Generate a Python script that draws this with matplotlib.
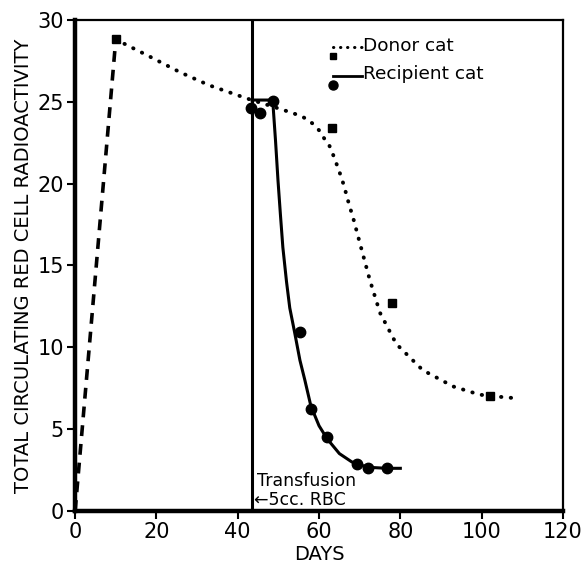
import numpy as np
import matplotlib.pyplot as plt

# injection phase (dashed)
dias_inyeccion = [0, 10]
act_inyeccion = [0, 28.8]

# donor cat curve (dotted)
dias_donante = [10, 18, 25.8, 33, 42.2, 48, 53.6, 55.7, 57.3, 58.7, 60.2, 61.4, 62.4, 63.4, 64.9, 66.1,
                67.3, 68.5, 70, 72.5, 75, 79, 85.5, 93, 99.5, 103, 107.6]
act_donante = [28.8, 27.8, 26.8, 26.0, 25.2, 24.75, 24.3, 24.1, 23.9, 23.6, 23.2, 22.7, 22.4, 21.8, 20.8, 19.9,
               18.8, 17.8, 16.4, 14.1, 12.1, 10.2, 8.6, 7.6, 7.1, 7.0, 6.9]
dias_donante_pts = [10, 63.2, 77.9, 102]
act_donante_pts = [28.8, 23.4, 12.7, 7.0]

# recipient cat curve (solid)
dias_receptor = [43.5, 48.6, 49.3, 49.9, 50.5, 51.1, 52.0, 52.8, 54.0, 55.3, 56.5, 58, 60, 62, 65, 68, 70, 73, 76.7, 80]
act_receptor = [25.1, 25.1, 22.6, 20.2, 18.1, 16.1, 14.0, 12.4, 10.9, 9.2, 8.0, 6.4, 5.2, 4.4, 3.5, 3.0, 2.8, 2.65, 2.6, 2.6]
dias_receptor_pts = [43.2, 45.5, 48.7, 55.3, 58, 61.9, 69.3, 72, 76.7]
act_receptor_pts = [24.6, 24.3, 25.06, 10.9, 6.2, 4.5, 2.85, 2.6, 2.6]

dia_transfusion = 43.5

fig = plt.figure(figsize=(5.87, 5.67), dpi=100)
ax = fig.add_axes([0.128, 0.099, 0.831, 0.866])

ax.plot(dias_inyeccion, act_inyeccion, color='black', lw=2.6, ls=(0, (3, 2.2)))
ax.plot(dias_donante, act_donante, color='black', lw=2.8, ls=(0, (0.1, 2.4)), dash_capstyle='round')
ax.plot(dias_donante_pts, act_donante_pts, 's', color='black', ms=6)
ax.plot(dias_receptor, act_receptor, color='black', lw=2.2)
ax.plot(dias_receptor_pts, act_receptor_pts, 'o', color='black', ms=7.5)
ax.axvline(dia_transfusion, color='black', lw=2.2)

# hand-drawn style legend
ax.plot([63.4, 70.5], [28.35, 28.35], color='black', lw=2.2, ls=(0, (0.1, 2.2)), dash_capstyle='round')
ax.plot([63.4], [27.8], 's', color='black', ms=5)
ax.text(70.8, 28.4, 'Donor cat', fontsize=13.3, va='center', ha='left')
ax.plot([63.4, 70.5], [26.55, 26.55], color='black', lw=2)
ax.plot([63.4], [26.0], 'o', color='black', ms=6.5)
ax.text(70.8, 26.7, 'Recipient cat', fontsize=13.3, va='center', ha='left')

ax.text(44.7, 1.85, 'Transfusion', fontsize=12.5, va='center', ha='left')
ax.text(43.9, 0.68, '\u21905cc. RBC', fontsize=12.5, va='center', ha='left')

ax.set_xlim(0, 120)
ax.set_ylim(0, 30)
ax.set_xticks([0, 20, 40, 60, 80, 100, 120])
ax.set_yticks([0, 5, 10, 15, 20, 25, 30])
ax.tick_params(direction='out', length=6, width=1.5, labelsize=15, pad=2)
for lado in ['top', 'right']:
    ax.spines[lado].set_linewidth(1.6)
for lado in ['left', 'bottom']:
    ax.spines[lado].set_linewidth(3.2)
ax.axvline(0, color='white', lw=1.3, clip_on=False)
ax.axhline(0, color='white', lw=1.3, clip_on=False)

ax.set_xlabel('DAYS', fontsize=14, labelpad=2)
ax.set_ylabel('TOTAL CIRCULATING RED CELL RADIOACTIVITY', fontsize=14, labelpad=3)

fig.savefig('out.png', dpi=100)
